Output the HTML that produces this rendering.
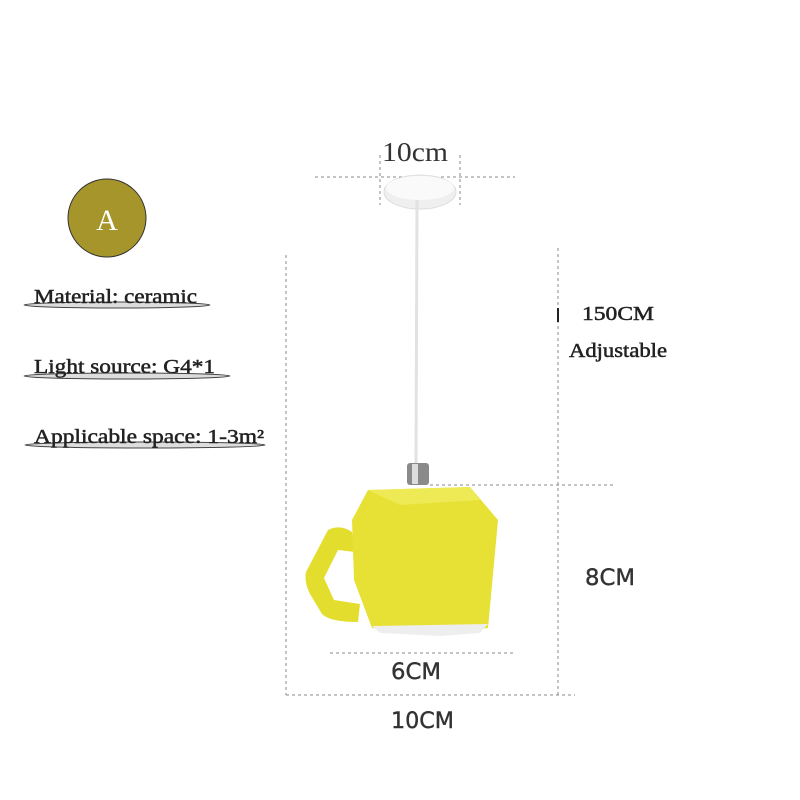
<!DOCTYPE html>
<html><head><style>body{margin:0;background:#fff}svg{display:block}</style></head><body>
<svg width="800" height="800" viewBox="0 0 800 800" xmlns="http://www.w3.org/2000/svg">
<rect width="800" height="800" fill="#fff"/>
<g stroke="#888" stroke-width="1" stroke-dasharray="3,3" fill="none">
<line x1="315" y1="177" x2="515" y2="177"/>
<line x1="380" y1="155" x2="380" y2="205"/>
<line x1="460" y1="155" x2="460" y2="205"/>
<line x1="286" y1="255" x2="286" y2="695"/>
<line x1="558" y1="248" x2="558" y2="695"/>
<line x1="430" y1="485" x2="613" y2="485"/>
<line x1="286" y1="695" x2="575" y2="695"/>
<line x1="330" y1="653" x2="515" y2="653"/>
</g>
<line x1="558" y1="308" x2="558" y2="322" stroke="#222" stroke-width="2"/>
<ellipse cx="420" cy="192" rx="36" ry="17" fill="#efefef" stroke="#ddd"/>
<ellipse cx="420" cy="188" rx="34" ry="12" fill="#fafafa"/>
<line x1="417" y1="200" x2="416" y2="465" stroke="#e2e2e2" stroke-width="3"/>
<rect x="407" y="463" width="22" height="22" rx="3" fill="#8a8a8a"/>
<rect x="412" y="464" width="6" height="20" fill="#ddd"/>
<path d="M352 532 Q340 524 328 530 L306 572 Q304 582 310 594 L322 614 Q330 622 358 622 L360 604 L334 600 L324 578 L338 550 L355 552 Z" fill="#e3de2e"/>
<path d="M368 490 L470 487 L498 520 L488 628 L440 634 L372 628 L354 580 L352 520 Z" fill="#e7e035"/>
<path d="M368 490 L470 487 L480 500 L400 505 Z" fill="#eeea55"/>
<path d="M372 626 L488 624 L480 633 L440 636 L380 633 Z" fill="#eee"/>
<circle cx="107" cy="218" r="39" fill="#a5952a" stroke="#333" stroke-width="1"/>
<text x="107" y="230" font-family="Liberation Serif, serif" font-size="30" fill="#fff" text-anchor="middle">A</text>
<g font-family="Liberation Serif, serif" font-size="20" fill="#222" stroke="#222" stroke-width="0.5">
<ellipse cx="117" cy="305" rx="93" ry="3" fill="#ddd" stroke="#444" stroke-width="1"/>
<text x="34" y="303" textLength="163" lengthAdjust="spacingAndGlyphs">Material: ceramic</text>
<ellipse cx="127" cy="376" rx="103" ry="3" fill="#ddd" stroke="#444" stroke-width="1"/>
<text x="34" y="373" textLength="181" lengthAdjust="spacingAndGlyphs">Light source: G4*1</text>
<ellipse cx="145" cy="445" rx="120" ry="3" fill="#ddd" stroke="#444" stroke-width="1"/>
<text x="34" y="443" textLength="230" lengthAdjust="spacingAndGlyphs">Applicable space: 1-3m²</text>
<text x="582" y="320" textLength="72" lengthAdjust="spacingAndGlyphs">150CM</text>
<text x="569" y="357" textLength="98" lengthAdjust="spacingAndGlyphs">Adjustable</text>
</g>
<text x="382" y="161" font-family="Liberation Serif, serif" font-size="27" fill="#333" textLength="66" lengthAdjust="spacingAndGlyphs">10cm</text>
<g font-family="DejaVu Sans, sans-serif" font-size="22" fill="#333" stroke="#333" stroke-width="0.4">
<text x="585" y="585" textLength="50" lengthAdjust="spacingAndGlyphs">8CM</text>
<text x="391" y="679" textLength="50" lengthAdjust="spacingAndGlyphs">6CM</text>
<text x="391" y="728" textLength="63" lengthAdjust="spacingAndGlyphs">10CM</text>
</g>
</svg>
</body></html>
